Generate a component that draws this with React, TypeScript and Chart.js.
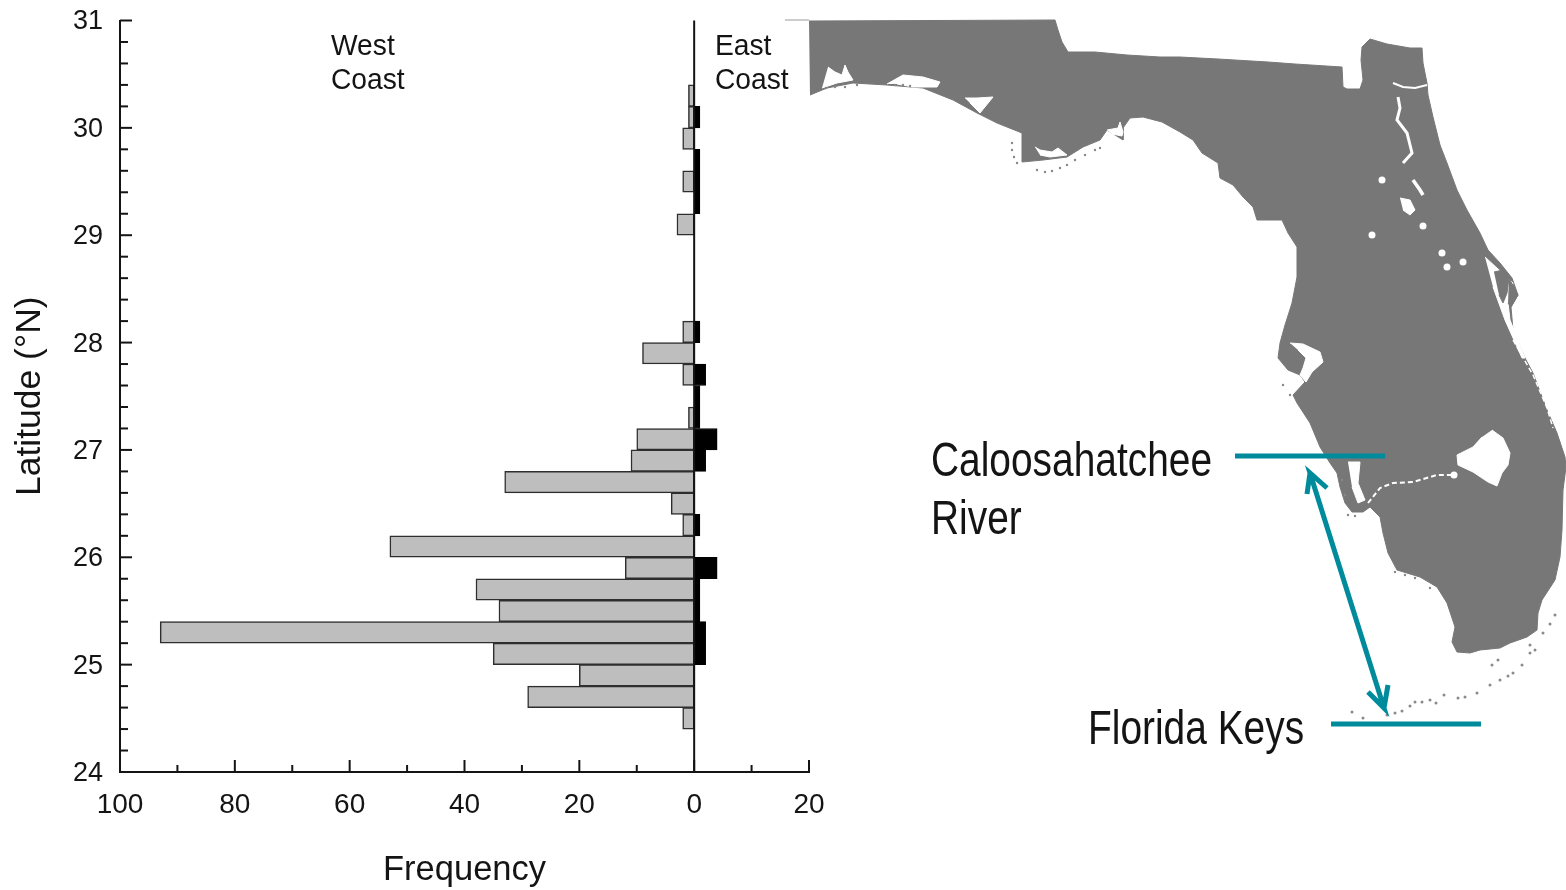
import React, { useEffect, useRef } from "react";
import { Chart, registerables } from "chart.js";

Chart.register(...registerables);

// Histogram: latitude bins (bin centres, degrees N) and counts per coast
const latitudeBins = [30.3, 30.1, 29.9, 29.7, 29.5, 29.3, 29.1, 28.1, 27.9, 27.7, 27.5, 27.3, 27.1, 26.9, 26.7, 26.5, 26.3, 26.1, 25.9, 25.7, 25.5, 25.3, 25.1, 24.9, 24.7, 24.5];
const westCoastCounts = [1, 1, 2, 0, 2, 0, 3, 2, 9, 2, 0, 1, 10, 11, 33, 4, 2, 53, 12, 38, 34, 93, 35, 20, 29, 2];
const eastCoastCounts = [0, 1, 0, 1, 1, 1, 0, 1, 0, 2, 1, 1, 4, 2, 0, 0, 1, 0, 4, 1, 1, 2, 2, 0, 0, 0];

const axisTitleLat = "Latitude (°N)";
const axisTitleFreq = "Frequency";
const westLabel = ["West", "Coast"];
const eastLabel = ["East", "Coast"];
const riverLabel = ["Caloosahatchee", "River"];
const keysLabel = "Florida Keys";

// Map outlines, in map grid units
const mainland = [[809,21],[1055,20],[1058,30],[1062,42],[1068,52],[1095,52],[1127,55],[1160,57],[1180,57],[1218,59],[1268,62],[1295,64],[1342,67],[1343,87],[1347,89],[1360,89],[1363,80],[1361,60],[1362,47],[1370,39],[1387,44],[1410,48],[1422,48],[1423,63],[1427,83],[1428,95],[1433,117],[1440,145],[1447,163],[1457,190],[1467,210],[1480,233],[1488,250],[1500,263],[1512,278],[1518,295],[1511,307],[1513,330],[1525,358],[1533,373],[1547,410],[1557,433],[1565,457],[1566,467],[1563,490],[1562,530],[1560,557],[1555,580],[1542,600],[1538,613],[1537,630],[1527,637],[1510,643],[1500,648],[1480,650],[1470,653],[1457,652],[1452,642],[1455,627],[1447,603],[1437,587],[1420,577],[1397,570],[1388,553],[1383,533],[1380,517],[1370,507],[1363,512],[1352,512],[1345,503],[1340,487],[1337,473],[1330,463],[1320,447],[1310,423],[1297,403],[1293,395],[1305,382],[1300,375],[1288,370],[1278,358],[1280,343],[1285,325],[1292,303],[1297,277],[1297,247],[1288,233],[1282,220],[1257,220],[1253,207],[1243,197],[1233,185],[1220,178],[1218,163],[1202,153],[1193,140],[1180,132],[1162,122],[1143,117],[1130,118],[1123,128],[1123,140],[1107,130],[1100,140],[1083,147],[1067,157],[1043,160],[1022,162],[1022,133],[997,123],[977,113],[953,100],[923,88],[887,85],[853,83],[827,88],[810,95]];
const northStrip = [[785,20],[809,20]];
const pensacolaBay = [[828,67],[835,72],[842,75],[845,65],[848,72],[853,80],[837,83],[822,88]];
const choctawBay = [[887,84],[903,75],[923,77],[940,82],[937,87],[913,87],[897,84]];
const standrewBay = [[965,98],[977,98],[993,97],[980,113],[970,103]];
const apalachBay = [[1035,147],[1040,150],[1052,152],[1058,148],[1067,155],[1050,157],[1040,155]];
const stMarksBay = [[1107,130],[1118,128],[1120,122],[1123,132],[1122,136],[1112,134]];
const tampaBay = [[1290,343],[1303,344],[1320,352],[1323,362],[1312,372],[1306,382],[1300,375],[1303,368],[1306,358],[1298,350]];
const charlotteHarbor = [[1348,462],[1360,462],[1358,483],[1365,500],[1358,503],[1352,487]];
const lakeOkeechobee = [[1492,430],[1503,438],[1510,453],[1508,465],[1502,473],[1497,486],[1488,482],[1473,472],[1458,465],[1457,455],[1473,447],[1482,437]];
const lakeGeorge = [[1400,198],[1410,200],[1415,210],[1410,215],[1403,210]];
const indianLagoon = [[1485,257],[1510,280],[1513,283],[1508,303],[1510,320],[1525,358],[1522,358],[1505,320],[1493,287]];
const merrittIsland = [[1494,272],[1503,270],[1509,278],[1507,293],[1503,303],[1499,295]];
const capePoint = [[1509,278],[1518,295],[1511,307],[1508,303]];
const stJohnsRiver = [[1398,97],[1400,108],[1397,120],[1407,133],[1412,153],[1403,163]];
const stJohnsMouth = [[1393,83],[1403,87],[1415,88],[1427,85]];
const crescentLake = [[1413,180],[1420,190],[1423,195]];
const caloosaRiver = [[1368,503],[1380,488],[1393,483],[1413,482],[1437,475],[1457,475]];
const eastLagoon = [[1513,340],[1533,375],[1547,408],[1553,428]];
const smallLakes = [[1372,235],[1442,253],[1447,267],[1463,262],[1382,180],[1423,226],[1454,475]];
const keysIslets = [[1352,712],[1363,718],[1387,715],[1395,713],[1402,711],[1410,706],[1415,702],[1422,702],[1430,700],[1436,703],[1444,695],[1458,698],[1465,697],[1477,693],[1490,685],[1500,680],[1508,676],[1513,673],[1522,665],[1530,653],[1535,650],[1543,633],[1550,624],[1555,615],[1492,665],[1498,660],[1530,645]];
const gulfIslets = [[1012,143],[1012,150],[1014,157],[1017,163],[1037,170],[1045,172],[1052,171],[1060,168],[1067,165],[1075,160],[1085,155],[1095,150],[1100,148],[1348,515],[1355,516],[1345,495],[1342,480],[1395,572],[1405,575],[1415,578],[1430,588],[1283,385],[1290,395]];
const panhandleIslets = [[826,88],[835,87],[845,87],[857,85],[895,85],[903,85],[910,86]];

// Teal annotations
const riverMarker = [[1235,456],[1385,456]];
const keysMarker = [[1331,724],[1481,724]];
const rangeArrow = [[1307,494],[1310,473],[1327,488],[1310,473],[1384,708],[1368,692],[1384,708],[1388,685]];

const pts = (list: number[][]) => list.map(([x, y]) => ({ x, y }));
const MAP_GRAY = "#777777";
const TEAL = "#008b9c";
const INK = "#141414";
const SANS = "'Liberation Sans', Arial, sans-serif";

const area = (list: number[][], color: string) => ({
  data: pts(list), showLine: true, fill: "shape", backgroundColor: color, borderColor: color,
  borderWidth: 1, pointRadius: 0, tension: 0, clip: false,
});
const stroke = (list: number[][], color: string, width: number, dash: number[] = []) => ({
  data: pts(list), showLine: true, fill: false, borderColor: color, borderWidth: width,
  borderDash: dash, pointRadius: 0, tension: 0, clip: false, borderCapStyle: "butt",
});
const dots = (list: number[][], color: string, radius: number) => ({
  data: pts(list), showLine: false, backgroundColor: color, borderWidth: 0,
  pointRadius: radius, clip: false,
});

const condensedText = (ctx: any, s: string, x: number, y: number, squeeze: number) => {
  ctx.save();
  ctx.translate(x, y);
  ctx.scale(squeeze, 1);
  ctx.fillText(s, 0, 0);
  ctx.restore();
};

const histogramDecor = {
  id: "histogramDecor",
  afterDatasetsDraw(chart: any) {
    const { ctx } = chart;
    const xs = chart.scales.x;
    const ys = chart.scales.y;
    ctx.save();
    ctx.strokeStyle = INK;
    ctx.lineWidth = 2;
    const zero = xs.getPixelForValue(0);
    ctx.beginPath();
    ctx.moveTo(zero, ys.top);
    ctx.lineTo(zero, ys.bottom);
    ctx.stroke();
    ys.ticks.forEach((t: any) => {
      const p = ys.getPixelForValue(t.value);
      const major = Math.abs(t.value - Math.round(t.value)) < 1e-6;
      ctx.beginPath();
      ctx.moveTo(xs.left, p);
      ctx.lineTo(xs.left + (major ? 12 : 8), p);
      ctx.stroke();
    });
    xs.ticks.forEach((t: any) => {
      const p = xs.getPixelForValue(t.value);
      const major = Math.round(t.value) % 20 === 0;
      ctx.beginPath();
      ctx.moveTo(p, ys.bottom);
      ctx.lineTo(p, ys.bottom - (major ? 12 : 7));
      ctx.stroke();
    });
    ctx.fillStyle = INK;
    ctx.font = `30px ${SANS}`;
    ctx.textBaseline = "middle";
    ctx.textAlign = "left";
    westLabel.forEach((s, i) => condensedText(ctx, s, 331, 47 + i * 34, 0.94));
    eastLabel.forEach((s, i) => condensedText(ctx, s, 715, 47 + i * 34, 0.94));
    ctx.restore();
  },
};

const mapLabels = {
  id: "mapLabels",
  afterDatasetsDraw(chart: any) {
    const { ctx } = chart;
    ctx.save();
    ctx.fillStyle = INK;
    ctx.font = `48px ${SANS}`;
    ctx.textBaseline = "middle";
    ctx.textAlign = "left";
    riverLabel.forEach((s, i) => condensedText(ctx, s, 931, 463 + i * 58, 0.81));
    condensedText(ctx, keysLabel, 1088, 731, 0.81);
    ctx.restore();
  },
};

export default function App() {
  const mapRef = useRef<HTMLCanvasElement>(null);
  const histRef = useRef<HTMLCanvasElement>(null);

  useEffect(() => {
    const mapChart = new Chart(mapRef.current as HTMLCanvasElement, {
      type: "scatter",
      data: {
        datasets: [
          stroke(rangeArrow, TEAL, 5),
          stroke(riverMarker, TEAL, 5),
          stroke(keysMarker, TEAL, 5),
          dots(keysIslets, "#8a8a8a", 1.5),
          dots(gulfIslets, "#888888", 1.2),
          dots(panhandleIslets, "#888888", 1.2),
          dots(smallLakes, "#ffffff", 3.5),
          stroke(caloosaRiver, "#ffffff", 2, [5, 3]),
          stroke(eastLagoon, "#ffffff", 1.5, [5, 3]),
          stroke(crescentLake, "#ffffff", 3.5),
          stroke(stJohnsMouth, "#ffffff", 2),
          stroke(stJohnsRiver, "#ffffff", 3),
          area(capePoint, MAP_GRAY),
          area(merrittIsland, MAP_GRAY),
          area(indianLagoon, "#ffffff"),
          area(lakeGeorge, "#ffffff"),
          area(lakeOkeechobee, "#ffffff"),
          area(charlotteHarbor, "#ffffff"),
          area(tampaBay, "#ffffff"),
          area(stMarksBay, "#ffffff"),
          area(apalachBay, "#ffffff"),
          area(standrewBay, "#ffffff"),
          area(choctawBay, "#ffffff"),
          area(pensacolaBay, "#ffffff"),
          stroke(northStrip, "#bdbdbd", 1.5),
          area(mainland, MAP_GRAY),
        ] as any,
      },
      options: {
        responsive: false,
        animation: false,
        events: [],
        layout: { padding: 0, autoPadding: false },
        plugins: { legend: { display: false }, tooltip: { enabled: false } },
        scales: {
          x: { type: "linear", display: false, min: 0, max: 1566 },
          y: { type: "linear", display: false, min: 0, max: 890, reverse: true },
        },
      },
      plugins: [mapLabels],
    } as any);

    const histChart = new Chart(histRef.current as HTMLCanvasElement, {
      type: "bar",
      data: {
        datasets: [
          {
            label: "East Coast",
            data: latitudeBins.map((y, i) => ({ x: eastCoastCounts[i], y })),
            backgroundColor: "#000000",
            borderColor: "#000000",
            borderWidth: 1,
            borderSkipped: false,
          },
          {
            label: "West Coast",
            data: latitudeBins.map((y, i) => ({ x: -westCoastCounts[i], y })),
            backgroundColor: "#bebebe",
            borderColor: "#2e2e2e",
            borderWidth: 1.5,
            borderSkipped: false,
          },
        ],
      },
      options: {
        indexAxis: "y",
        responsive: false,
        animation: false,
        events: [],
        layout: { padding: { left: 0, top: 20.5, right: 757, bottom: 0 }, autoPadding: false },
        datasets: { bar: { grouped: false, barPercentage: 1, categoryPercentage: 1 } },
        plugins: { legend: { display: false }, tooltip: { enabled: false } },
        scales: {
          x: {
            type: "linear",
            min: -100,
            max: 20,
            position: "bottom",
            afterFit: (s: any) => { s.height = 118; s.paddingLeft = 0; s.paddingRight = 0; },
            grid: { display: false, drawTicks: false },
            border: { display: true, color: INK, width: 2 },
            ticks: {
              stepSize: 10,
              autoSkip: false,
              maxRotation: 0,
              padding: 16,
              color: INK,
              font: { family: SANS, size: 28 },
              callback: (v: any) => (Math.round(v) % 20 === 0 ? String(Math.abs(Math.round(v))) : ""),
            },
            title: {
              display: true,
              text: axisTitleFreq,
              color: INK,
              font: { family: SANS, size: 34.5 },
              padding: { top: 0, bottom: -1 },
            },
          },
          y: {
            type: "linear",
            min: 24,
            max: 31,
            offset: false,
            position: "left",
            afterFit: (s: any) => { s.width = 120; s.paddingTop = 0; s.paddingBottom = 0; },
            grid: { display: false, drawTicks: false },
            border: { display: true, color: INK, width: 2 },
            ticks: {
              stepSize: 0.2,
              autoSkip: false,
              padding: 17,
              labelOffset: 1.5,
              color: INK,
              font: { family: SANS, size: 27 },
              callback: (v: any) => (Math.abs(v - Math.round(v)) < 1e-6 ? String(Math.round(v)) : ""),
            },
            title: {
              display: true,
              text: axisTitleLat,
              color: INK,
              font: { family: SANS, size: 35.5 },
              padding: { top: 9, bottom: 0 },
            },
          },
        },
      },
      plugins: [histogramDecor],
    } as any);

    return () => {
      mapChart.destroy();
      histChart.destroy();
    };
  }, []);

  const layer: React.CSSProperties = { position: "absolute", left: 0, top: 0 };
  return (
    <div style={{ position: "absolute", left: 0, top: 0, width: 1566, height: 890, background: "#fff", overflow: "hidden" }}>
      <canvas ref={mapRef} width={1566} height={890} style={layer} />
      <canvas ref={histRef} width={1566} height={890} style={layer} />
    </div>
  );
}
